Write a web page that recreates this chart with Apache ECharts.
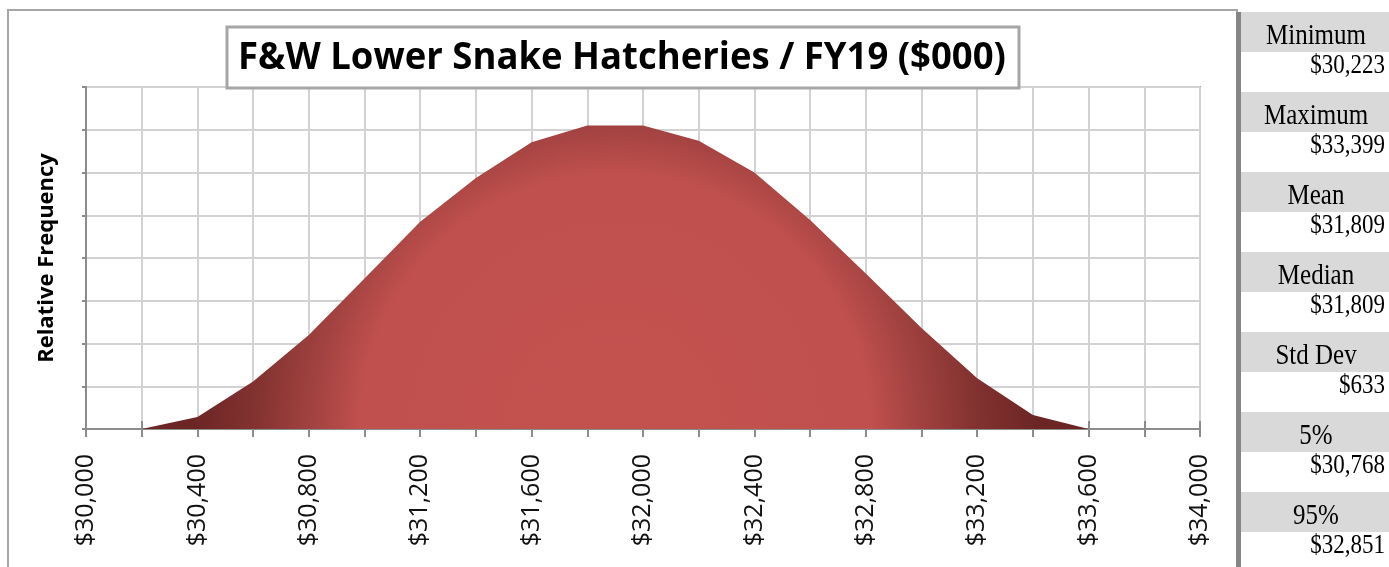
<!DOCTYPE html>
<html>
<head>
<meta charset="utf-8">
<title>F&amp;W Lower Snake Hatcheries / FY19</title>
<script src="https://cdn.jsdelivr.net/npm/echarts@6/dist/echarts.min.js"></script>
<style>
  html, body { margin: 0; padding: 0; background: #ffffff; }
  #chart { width: 1389px; height: 567px; }
</style>
</head>
<body>
<div id="chart"></div>
<script>
// Simulated cost distribution, FY19, in thousands of dollars
const costBins = [30200, 30400, 30600, 30800, 31000, 31200, 31400, 31600, 31800,
                  32000, 32200, 32400, 32600, 32800, 33000, 33200, 33400, 33600];
const relFrequency = [0, 0.28, 1.11, 2.2, 3.52, 4.85, 5.87, 6.71, 7.1,
                      7.1, 6.74, 6.0, 4.89, 3.64, 2.36, 1.19, 0.33, 0];

// Summary statistics panel
const statNames = ['Minimum', 'Maximum', 'Mean', 'Median', 'Std Dev', '5%', '95%'];
const statValues = [30223, 33399, 31809, 31809, 633, 30768, 32851];

const titleText = 'F&W Lower Snake Hatcheries / FY19 ($000)';
const xMin = 30000, xMax = 34000, xStep = 200, xLabelStep = 400;

const money = v => '$' + Math.round(v).toLocaleString('en-US');

const chart = echarts.init(document.getElementById('chart'), null, { renderer: 'canvas' });

const seriesData = costBins.map((c, i) => [c, relFrequency[i]]);

// Statistics panel on the right: grey header row + white value row per entry
const panel = [];
const rowTop = 12, rowH = 40;
statNames.forEach((name, i) => {
  const top = rowTop + i * rowH * 2;
  panel.push({
    type: 'rect', shape: { x: 1241, y: top, width: 148, height: rowH },
    style: { fill: '#d9d9d9' }, silent: true
  });
  panel.push({
    type: 'text', x: 1316, y: top + 24, scaleY: 1.15,
    style: { text: name, font: '25px "Liberation Serif"', fill: '#000', align: 'center', verticalAlign: 'middle' }
  });
  panel.push({
    type: 'text', x: 1385, y: top + rowH + 14, scaleY: 1.2,
    style: { text: money(statValues[i]), font: '23px "Liberation Serif"', fill: '#000', align: 'right', verticalAlign: 'middle' }
  });
});

const option = {
  animation: false,
  backgroundColor: '#ffffff',
  grid: {
    left: 86, right: 189, top: 87, bottom: 138,
    show: true, borderColor: '#a6a6a6', borderWidth: 2, backgroundColor: 'transparent'
  },
  xAxis: [{
    type: 'value', min: xMin, max: xMax, interval: xStep,
    axisLine: { show: true, onZero: false, lineStyle: { color: '#8c8c8c', width: 2 } },
    axisTick: { show: true, length: 8, lineStyle: { color: '#8c8c8c', width: 2 } },
    axisLabel: {
      rotate: 90, margin: 25, color: '#111',
      fontFamily: '"Open Sans"', fontSize: 25,
      formatter: v => (v % xLabelStep === 0 ? money(v) : '')
    },
    splitLine: { show: true, lineStyle: { color: '#d2d2d2', width: 2 } }
  }, {
    // inner half of the crossing tick marks
    type: 'value', min: xMin, max: xMax, interval: xStep, position: 'bottom',
    axisLine: { show: false },
    axisTick: { show: true, inside: true, length: 8, lineStyle: { color: '#8c8c8c', width: 2 } },
    axisLabel: { show: false }, splitLine: { show: false }
  }],
  yAxis: {
    type: 'value', min: 0, max: 8, interval: 1,
    name: 'Relative Frequency', nameLocation: 'middle', nameGap: 28, nameRotate: 90,
    nameTextStyle: { fontFamily: '"Open Sans"', fontWeight: 'bold', fontSize: 22, color: '#000' },
    axisLine: { show: true, lineStyle: { color: '#8c8c8c', width: 2 } },
    axisTick: { show: true, length: 4, lineStyle: { color: '#8c8c8c', width: 2 } },
    axisLabel: { show: false },
    splitLine: { show: true, lineStyle: { color: '#d2d2d2', width: 2 } }
  },
  series: [{
    type: 'line', data: seriesData, symbol: 'none', smooth: false,
    lineStyle: { width: 0 },
    areaStyle: {
      opacity: 1,
      // bright core with darker rim and tails
      color: new echarts.graphic.RadialGradient(0.5, 1.0, 1.4, [
        { offset: 0, color: '#c3524f' },
        { offset: 0.6, color: '#c0504d' },
        { offset: 0.7, color: '#a54442' },
        { offset: 0.85, color: '#823230' },
        { offset: 1, color: '#6a2524' }
      ])
    },
    z: 3
  }],
  graphic: [
    // outer chart frame
    { type: 'rect', shape: { x: 8, y: 10, width: 1229, height: 570 },
      style: { fill: 'none', stroke: '#a6a6a6', lineWidth: 2 }, silent: true, z: -10 },
    // divider between chart and statistics panel
    { type: 'rect', shape: { x: 1236, y: 12, width: 5, height: 560 },
      style: { fill: '#858585' }, silent: true },
    // title box
    { type: 'rect', shape: { x: 227, y: 27, width: 792, height: 61 },
      style: { fill: '#ffffff', stroke: '#a6a6a6', lineWidth: 3 }, z: 100 },
    { type: 'text', x: 622, y: 58, scaleY: 1.05, z: 101,
      style: { text: titleText, font: 'bold 36.5px "Open Sans"', fill: '#000', align: 'center', verticalAlign: 'middle' } },
    ...panel
  ]
};

chart.setOption(option);
</script>
</body>
</html>
